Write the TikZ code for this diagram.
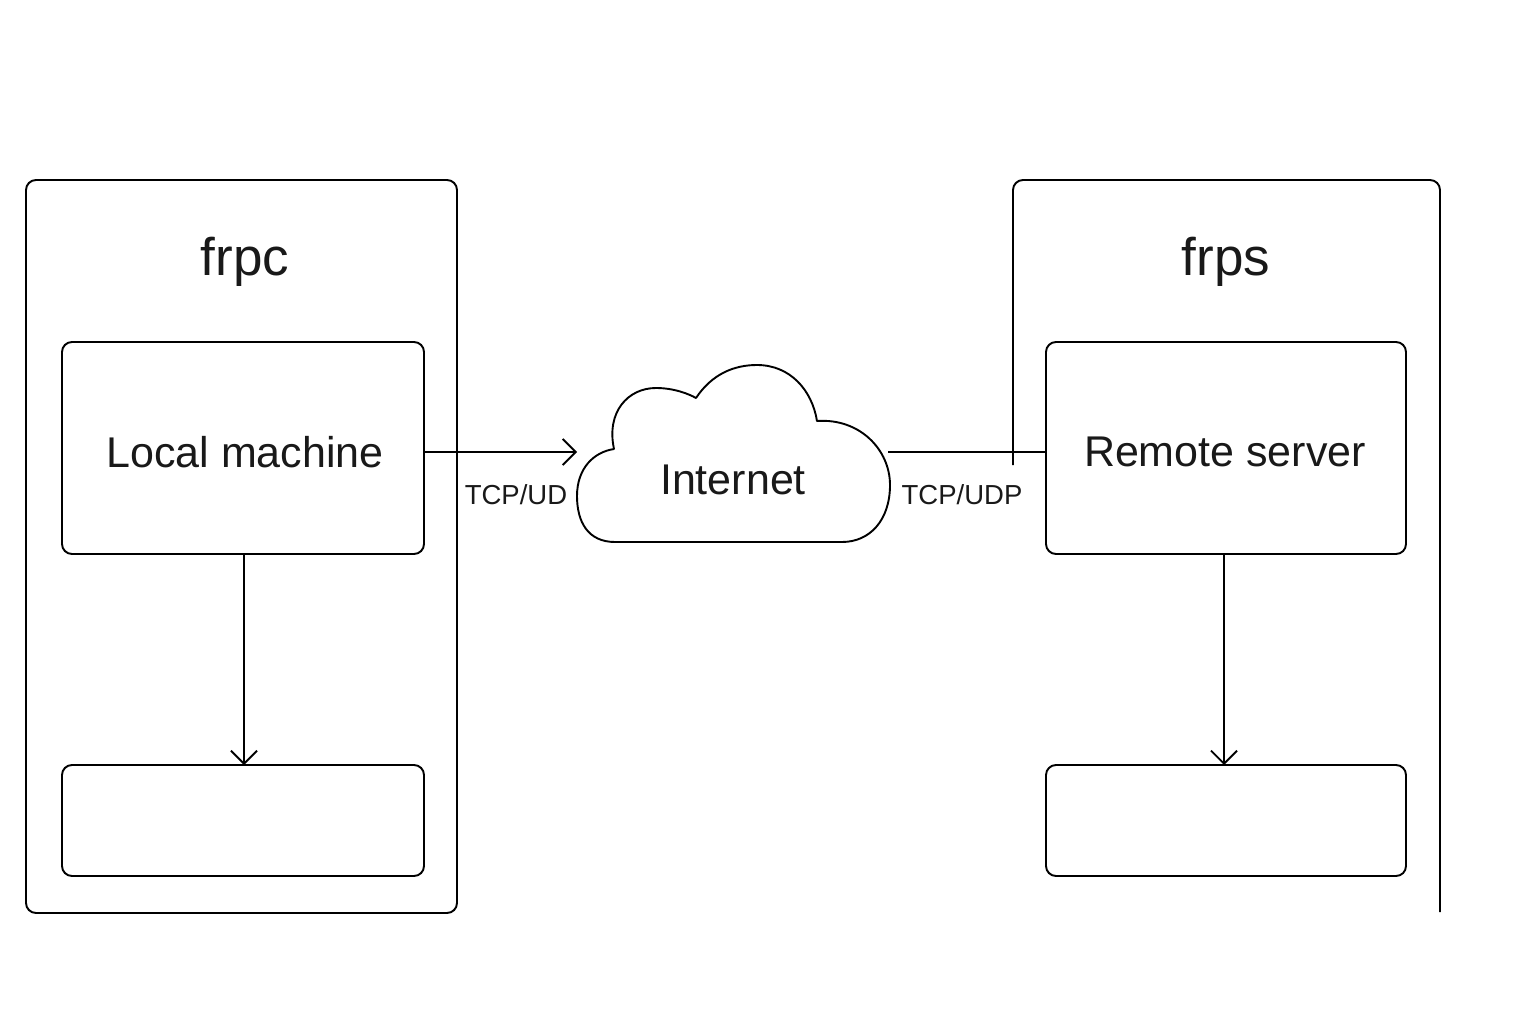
\documentclass[tikz,border=0pt]{standalone}
\usepackage{fontspec}
\setmainfont{Liberation Sans}
\usetikzlibrary{arrows.meta}
\begin{document}
\begin{tikzpicture}[x=1pt,y=-1pt,line width=1.9pt,
  box/.style={draw,rounded corners=10pt},
  lbl/.style={font=\fontsize{43}{50}\selectfont,text=black!90},
  title/.style={font=\fontsize{53}{60}\selectfont,text=black!90},
  small/.style={font=\fontsize{27.5}{32}\selectfont,text=black!90},
  arr/.style={-{Straight Barb[length=13pt,width=26pt,line width=1.9pt]}}]
\useasboundingbox (0,0) rectangle (1536,1024);
% left container
\draw[box] (26,180) rectangle (457,913);
\node[title] (frpc) at (245,262) {frpc};
\draw[box] (62,342) rectangle (424,554);
\node[lbl] (lm) at (245,452) {Local machine};
\coordinate (lmE) at (424,452);
\coordinate (lmS) at (244,554);
\draw[box] (62,765) rectangle (424,876);
\coordinate (lbN) at (244,765);
\draw[arr] (lmS) -- (lbN);
% cloud
\draw[line join=round] (615,542) .. controls (588,542) and (577,522) .. (577,496)
  .. controls (577,468) and (594,452) .. (614,449)
  .. controls (606,412) and (628,388) .. (656,388)
  .. controls (674,388) and (689,394) .. (696,398)
  .. controls (712,374) and (734,365) .. (757,365)
  .. controls (790,365) and (812,390) .. (817,421)
  .. controls (860,418) and (890,450) .. (890,485)
  .. controls (890,520) and (870,542) .. (842,542) -- cycle;
\node[lbl] (inet) at (733,480) {Internet};
\coordinate (cW) at (577,452);
\coordinate (cE) at (888,452);
\draw[arr] (lmE) -- (cW);
\node[small] (t1) at (516,495) {TCP/UD};
% right container
\draw[rounded corners=10pt] (1013,465) -- (1013,180) -- (1440,180) -- (1440,912);
\node[title] (frps) at (1226,262) {frps};
\draw[box] (1046,342) rectangle (1406,554);
\node[lbl] (rs) at (1225,452) {Remote server};
\coordinate (rsW) at (1046,452);
\coordinate (rsS) at (1224,554);
\draw[box] (1046,765) rectangle (1406,876);
\coordinate (rbN) at (1224,765);
\draw[arr] (rsS) -- (rbN);
\draw (cE) -- (rsW);
\node[small] (t2) at (962,495) {TCP/UDP};
\end{tikzpicture}
\end{document}
